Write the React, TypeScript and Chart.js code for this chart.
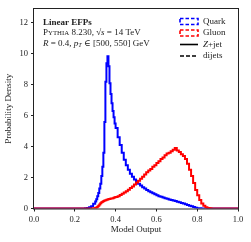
import React, { useEffect, useRef } from "react";
import { Chart, registerables } from "chart.js";
Chart.register(...registerables);

// Histogram bin left edges (finer bins around the quark peak)
const binLefts: number[] = [
  0.00, 0.01, 0.02, 0.03, 0.04, 0.05, 0.06, 0.07, 0.08, 0.09,
  0.10, 0.11, 0.12, 0.13, 0.14, 0.15, 0.16, 0.17, 0.18, 0.19,
  0.20, 0.21, 0.22, 0.23, 0.24, 0.25, 0.26, 0.27, 0.28, 0.29,
  0.300, 0.305, 0.310, 0.315, 0.320, 0.325, 0.330, 0.335, 0.340, 0.345,
  0.350, 0.355, 0.360, 0.365, 0.370, 0.375, 0.380, 0.385, 0.390, 0.395,
  0.40, 0.41, 0.42, 0.43, 0.44, 0.45, 0.46, 0.47, 0.48, 0.49,
  0.50, 0.51, 0.52, 0.53, 0.54, 0.55, 0.56, 0.57, 0.58, 0.59,
  0.60, 0.61, 0.62, 0.63, 0.64, 0.65, 0.66, 0.67, 0.68, 0.69,
  0.70, 0.71, 0.72, 0.73, 0.74, 0.75, 0.76, 0.77, 0.78, 0.79,
  0.80, 0.81, 0.82, 0.83, 0.84, 0.85, 0.86, 0.87, 0.88, 0.89,
  0.90, 0.91, 0.92, 0.93, 0.94, 0.95, 0.96, 0.97, 0.98, 0.99,
];

const quarkValues: number[] = [
  0, 0, 0, 0, 0, 0, 0, 0, 0, 0,
  0, 0, 0, 0, 0, 0, 0, 0, 0, 0,
  0, 0, 0, 0, 0, 0.02, 0.04, 0.08, 0.15, 0.3,
  0.45, 0.6, 0.8, 1.0, 1.3, 1.6, 2.1, 2.7, 3.6, 5.6,
  8.2, 9.4, 9.85, 9.2, 8.1, 7.4, 6.8, 6.3, 5.9, 5.5,
  5.2, 4.6, 4.1, 3.6, 3.15, 2.8, 2.5, 2.25, 2.05, 1.88,
  1.74, 1.6, 1.48, 1.38, 1.29, 1.2, 1.12, 1.05, 0.98, 0.92,
  0.86, 0.8, 0.76, 0.71, 0.67, 0.63, 0.59, 0.55, 0.51, 0.48,
  0.44, 0.4, 0.36, 0.32, 0.28, 0.23, 0.18, 0.14, 0.09, 0.05,
  0.02, 0.01, 0, 0, 0, 0, 0, 0, 0, 0,
  0, 0, 0, 0, 0, 0, 0, 0, 0, 0,
];

const gluonValues: number[] = [
  0, 0, 0, 0, 0, 0, 0, 0, 0, 0,
  0, 0, 0, 0, 0, 0, 0, 0, 0, 0,
  0, 0, 0, 0, 0, 0, 0, 0, 0, 0.01,
  0.03, 0.07, 0.12, 0.18, 0.26, 0.34, 0.4, 0.44, 0.48, 0.52,
  0.54, 0.56, 0.59, 0.61, 0.62, 0.64, 0.65, 0.67, 0.69, 0.72,
  0.75, 0.8, 0.87, 0.95, 1.04, 1.12, 1.22, 1.32, 1.42, 1.55,
  1.68, 1.8, 1.93, 2.06, 2.2, 2.35, 2.45, 2.55, 2.7, 2.8,
  2.95, 3.05, 3.2, 3.3, 3.45, 3.55, 3.6, 3.7, 3.8, 3.92,
  3.75, 3.65, 3.5, 3.4, 3.2, 2.9, 2.5, 2.1, 1.65, 1.2,
  0.85, 0.55, 0.32, 0.17, 0.08, 0.03, 0.01, 0, 0, 0,
  0, 0, 0, 0, 0, 0, 0, 0, 0, 0,
];

const xTicks: number[] = [0, 0.2, 0.4, 0.6, 0.8, 1.0];
const xTickLabels: string[] = ["0.0", "0.2", "0.4", "0.6", "0.8", "1.0"];
const yTicks: number[] = [0, 2, 4, 6, 8, 10, 12];
const yTickLabels: string[] = ["0", "2", "4", "6", "8", "10", "12"];

const legendLabels: string[] = ["Quark", "Gluon", "Z+jet", "dijets"];

const FONT = "'Liberation Serif', 'DejaVu Serif', serif";
const INK = "#222222";
const TXT = 9;

function toSteps(values: number[]) {
  const pts = values.map((v, i) => ({ x: binLefts[i], y: v }));
  pts.push({ x: 1, y: values[values.length - 1] });
  return pts;
}

type Seg = { t: string; size: number; style?: string; weight?: string; dy?: number };

function drawRich(ctx: CanvasRenderingContext2D, x: number, y: number, segs: Seg[]) {
  let cx = x;
  for (const s of segs) {
    ctx.font = `${s.style || "normal"} ${s.weight || "normal"} ${s.size}px ${FONT}`;
    ctx.fillText(s.t, cx, y + (s.dy || 0));
    cx += ctx.measureText(s.t).width;
  }
}

const overlayPlugin = {
  id: "overlay",
  afterDatasetsDraw(chart: any) {
    const { ctx, chartArea: a } = chart;
    ctx.save();
    ctx.strokeStyle = INK;
    ctx.lineWidth = 1;
    ctx.strokeRect(a.left - 0.5, a.top - 0.5, a.right - a.left + 1, a.bottom - a.top + 1);

    ctx.fillStyle = INK;
    ctx.textBaseline = "middle";
    ctx.textAlign = "left";
    const tx = a.left + 9;
    drawRich(ctx, tx, 22.5, [{ t: "Linear EFPs", size: TXT, weight: "bold" }]);
    drawRich(ctx, tx, 33, [
      { t: "P", size: TXT },
      { t: "YTHIA", size: 6.8 },
      { t: " 8.230, ", size: TXT },
      { t: "\u221A", size: TXT },
      { t: "s", size: TXT, style: "italic" },
      { t: " = 14 TeV", size: TXT },
    ]);
    drawRich(ctx, tx, 43.5, [
      { t: "R", size: TXT, style: "italic" },
      { t: " = 0.4, ", size: TXT },
      { t: "p", size: TXT, style: "italic" },
      { t: "T", size: 6.3, style: "italic", dy: 2 },
      { t: " \u2208 [500, 550] GeV", size: TXT },
    ]);

    const hx0 = 180;
    const hx1 = 198;
    const lx = 203;
    const rows = [21.5, 33, 44.5, 56];
    ctx.lineWidth = 1.6;
    ctx.setLineDash([3.5, 2]);
    ctx.strokeStyle = "#0000ff";
    ctx.strokeRect(hx0, rows[0] - 3, hx1 - hx0, 6);
    ctx.strokeStyle = "#ff0000";
    ctx.strokeRect(hx0, rows[1] - 3, hx1 - hx0, 6);
    ctx.setLineDash([]);
    ctx.strokeStyle = "#000000";
    ctx.beginPath();
    ctx.moveTo(hx0, rows[2]);
    ctx.lineTo(hx1, rows[2]);
    ctx.stroke();
    ctx.setLineDash([4, 2]);
    ctx.beginPath();
    ctx.moveTo(hx0, rows[3]);
    ctx.lineTo(hx1, rows[3]);
    ctx.stroke();
    ctx.setLineDash([]);

    ctx.fillStyle = INK;
    drawRich(ctx, lx, rows[0], [{ t: legendLabels[0], size: TXT }]);
    drawRich(ctx, lx, rows[1], [{ t: legendLabels[1], size: TXT }]);
    drawRich(ctx, lx, rows[2], [
      { t: legendLabels[2].slice(0, 1), size: TXT, style: "italic" },
      { t: legendLabels[2].slice(1), size: TXT },
    ]);
    drawRich(ctx, lx, rows[3], [{ t: legendLabels[3], size: TXT }]);
    ctx.restore();
  },
};

export default function App() {
  const ref = useRef<HTMLCanvasElement | null>(null);
  useEffect(() => {
    document.body.style.margin = "0";
    if (!ref.current) return;
    const chart = new Chart(ref.current, {
      type: "line",
      data: {
        datasets: [
          {
            label: "Gluon",
            data: toSteps(gluonValues),
            borderColor: "#ff0000",
            borderWidth: 2,
            pointRadius: 0,
            stepped: true,
            fill: false,
          },
          {
            label: "Quark",
            data: toSteps(quarkValues),
            borderColor: "#0000ff",
            borderWidth: 2,
            pointRadius: 0,
            stepped: true,
            fill: false,
          },
        ],
      },
      options: {
        animation: false,
        responsive: false,
        devicePixelRatio: 1,
        layout: { padding: { top: 9, right: 13, left: 0, bottom: 0 } },
        plugins: { legend: { display: false }, tooltip: { enabled: false } },
        scales: {
          x: {
            type: "linear",
            min: 0,
            max: 1,
            afterBuildTicks: (s: any) => {
              s.ticks = xTicks.map((v) => ({ value: v }));
            },
            afterFit: (s: any) => {
              s.height = 33.5;
            },
            ticks: {
              callback: (_v: any, i: number) => xTickLabels[i],
              font: { family: FONT, size: 8.5 },
              color: INK,
              padding: 3,
              maxRotation: 0,
            },
            grid: {
              display: true,
              drawOnChartArea: false,
              drawTicks: true,
              tickLength: 3,
              color: INK,
              lineWidth: 1,
            },
            border: { display: false },
            title: {
              display: true,
              text: "Model Output",
              font: { family: FONT, size: 9 },
              color: INK,
              padding: { top: 0, bottom: 6.5 },
            },
          },
          y: {
            type: "linear",
            min: 0,
            max: 12.9,
            afterBuildTicks: (s: any) => {
              s.ticks = yTicks.map((v) => ({ value: v }));
            },
            afterFit: (s: any) => {
              s.width = 34;
            },
            ticks: {
              callback: (_v: any, i: number) => yTickLabels[i],
              font: { family: FONT, size: 8.5 },
              color: INK,
              padding: 3,
            },
            grid: {
              display: true,
              drawOnChartArea: false,
              drawTicks: true,
              tickLength: 3,
              color: INK,
              lineWidth: 1,
            },
            border: { display: false },
            title: {
              display: true,
              text: "Probability Density",
              font: { family: FONT, size: 9 },
              color: INK,
              padding: { top: 3.5, bottom: 0 },
            },
          },
        },
      },
      plugins: [overlayPlugin],
    });
    return () => chart.destroy();
  }, []);
  return (
    <div style={{ position: "fixed", left: 0, top: 0, width: 251, height: 242, background: "#fff" }}>
      <canvas ref={ref} width={251} height={242} style={{ width: 251, height: 242, display: "block" }} />
    </div>
  );
}
